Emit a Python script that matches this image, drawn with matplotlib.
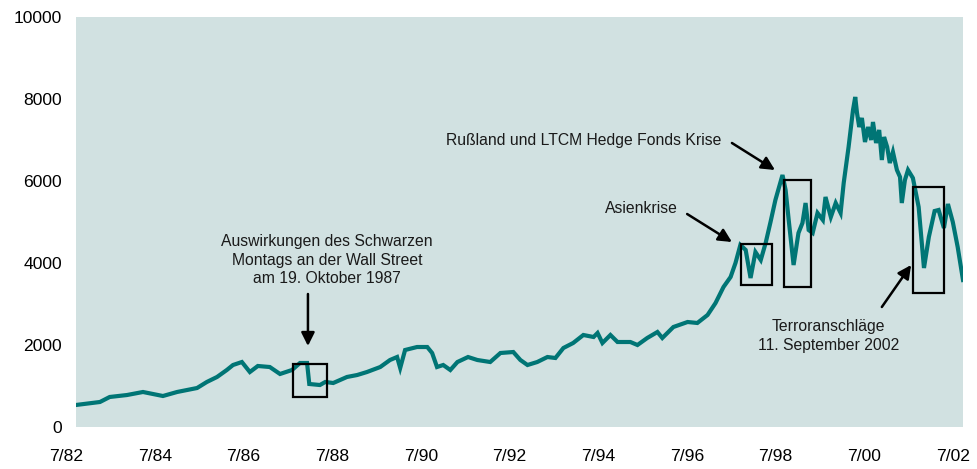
import matplotlib
matplotlib.use("Agg")
import matplotlib.pyplot as plt
import matplotlib.transforms as mtransforms
from matplotlib.patches import Rectangle

plt.rcParams['font.family'] = ['Liberation Sans', 'DejaVu Sans']

# index level (decimal year, points)
years = [1982.50, 1983.04, 1983.26, 1983.65, 1984.01, 1984.46, 1984.78, 1985.23, 1985.45, 1985.68,
         1985.90, 1986.04, 1986.24, 1986.42, 1986.60, 1986.87, 1987.10, 1987.37, 1987.55, 1987.71,
         1987.76, 1988.00, 1988.12, 1988.30, 1988.61, 1988.84, 1989.06, 1989.36, 1989.58, 1989.74,
         1989.81, 1989.92, 1990.19, 1990.42, 1990.53, 1990.64, 1990.78, 1990.94, 1991.10, 1991.34,
         1991.55, 1991.84, 1992.07, 1992.36, 1992.52, 1992.68, 1992.90, 1993.13, 1993.31, 1993.49,
         1993.71, 1993.94, 1994.17, 1994.26, 1994.37, 1994.55, 1994.71, 1995.00, 1995.16, 1995.38,
         1995.61, 1995.72, 1995.97, 1996.29, 1996.51, 1996.74, 1996.92, 1997.10, 1997.26, 1997.37,
         1997.48, 1997.60, 1997.71, 1997.82, 1997.94, 1998.05, 1998.16, 1998.27, 1998.43, 1998.50,
         1998.57, 1998.68, 1998.79, 1998.88, 1998.95, 1999.02, 1999.11, 1999.22, 1999.34, 1999.40,
         1999.52, 1999.63, 1999.74, 1999.81, 1999.92, 2000.02, 2000.07, 2000.11, 2000.16, 2000.22,
         2000.29, 2000.36, 2000.43, 2000.47, 2000.54, 2000.61, 2000.67, 2000.72, 2000.79, 2000.85,
         2000.92, 2001.01, 2001.08, 2001.12, 2001.19, 2001.26, 2001.37, 2001.50, 2001.62, 2001.73,
         2001.86, 2001.95, 2002.07, 2002.16, 2002.27, 2002.38, 2002.50]
index = [537, 610, 732, 780, 854, 756, 854, 951, 1098, 1220,
         1390, 1512, 1585, 1341, 1488, 1463, 1293, 1390, 1561, 1561,
         1049, 1024, 1098, 1073, 1220, 1268, 1341, 1463, 1634, 1707,
         1439, 1878, 1951, 1951, 1805, 1463, 1512, 1390, 1585, 1707,
         1634, 1585, 1805, 1829, 1634, 1512, 1585, 1707, 1683, 1927,
         2049, 2244, 2195, 2293, 2049, 2244, 2073, 2073, 2000, 2171,
         2317, 2171, 2439, 2561, 2537, 2732, 3024, 3415, 3659, 4000,
         4439, 4317, 3634, 4268, 4073, 4488, 5000, 5537, 6146, 5780,
         5049, 3951, 4732, 4976, 5463, 4805, 4732, 5220, 5049, 5610,
         5122, 5463, 5220, 5951, 6829, 7732, 8049, 7658, 7317, 7537,
         6951, 7317, 7000, 7439, 6927, 7244, 6512, 7073, 6829, 6439,
         6707, 6268, 6098, 5463, 6024, 6268, 6073, 5366, 3878, 4634,
         5268, 5293, 4854, 5439, 5000, 4390, 3585]

tick_years = [1982.5 + 2 * i for i in range(11)]
tick_labels = ['7/82', '7/84', '7/86', '7/88', '7/90', '7/92', '7/94', '7/96', '7/98', '7/00', '7/02']
y_ticks = [0, 2000, 4000, 6000, 8000, 10000]

# crisis windows: (start, end, low, high)
boxes = [(1987.39, 1988.16, 732, 1537),
         (1997.49, 1998.19, 3463, 4463),
         (1998.46, 1999.07, 3415, 6024),
         (2001.37, 2002.07, 3268, 5854)]

# (text, text pos, arrow tail, arrow tip)
notes = [("Auswirkungen des Schwarzen\nMontags an der Wall Street\nam 19. Oktober 1987",
          (1988.16, 4073), (1987.73, 3244), (1987.73, 1976)),
         ("Asienkrise", (1995.24, 5341), (1996.28, 5195), (1997.29, 4512)),
         ("Rußland und LTCM Hedge Fonds Krise", (1993.95, 6976), (1997.29, 6927), (1998.26, 6268)),
         ("Terroranschläge\n11. September 2002", (1999.46, 2220), (2000.67, 2927), (2001.33, 3951))]

bg = '#d1e1e1'
teal = '#007575'

fig = plt.figure(figsize=(9.78, 4.69), dpi=100)
ax = fig.add_axes([76 / 978, 42 / 469, 887 / 978, 410 / 469])
ax.set_facecolor(bg)
ax.plot(years, index, color=teal, lw=3.0, solid_joinstyle='miter')

for x0, x1, y0, y1 in boxes:
    ax.add_patch(Rectangle((x0, y0), x1 - x0, y1 - y0, fill=False, ec='black', lw=1.6, zorder=3))

for txt, pos, tail, tip in notes:
    ax.text(pos[0], pos[1], txt, ha='center', va='center', fontsize=11.3,
            color='#1a1a1a', linespacing=1.3)
    ax.annotate('', xy=tip, xytext=tail,
                arrowprops=dict(arrowstyle='-|>', color='black', lw=1.8,
                                mutation_scale=20, shrinkA=0, shrinkB=0))

ax.set_xlim(1982.5, 2002.5)
ax.set_ylim(0, 10000)
ax.set_xticks(tick_years)
ax.set_xticklabels(tick_labels)
ax.set_yticks(y_ticks)
ax.set_yticklabels([str(v) for v in y_ticks])
ax.tick_params(length=0, labelsize=12.6)
ax.tick_params(axis='x', pad=16)
ax.tick_params(axis='y', pad=10)
for s in ax.spines.values():
    s.set_visible(False)

offset = mtransforms.ScaledTranslation(-10 / 100, 0, fig.dpi_scale_trans)
for lab in ax.get_xticklabels():
    lab.set_transform(lab.get_transform() + offset)

fig.savefig('out.png', dpi=100)
